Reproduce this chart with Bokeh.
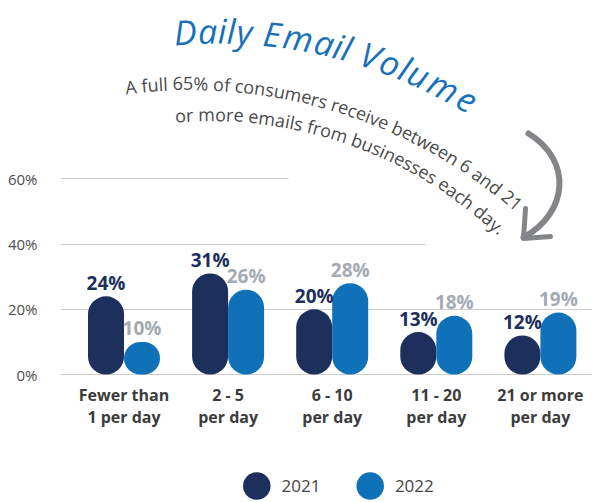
import math
from bokeh.plotting import figure
from bokeh.models import Range1d, FixedTicker, BoxAnnotation, ColumnDataSource
from bokeh.layouts import column
from bokeh.embed import file_html
from bokeh.resources import INLINE
from bokeh.core.properties import value

# ---------------- data ----------------
categories = ["Fewer than\n1 per day", "2 - 5\nper day", "6 - 10\nper day",
              "11 - 20\nper day", "21 or more\nper day"]
series_names = ["2021", "2022"]
values_2021 = [24, 31, 20, 13, 12]
values_2022 = [10, 26, 28, 18, 19]
y_ticks = [0, 20, 40, 60]
y_tick_labels = ["0%", "20%", "40%", "60%"]
title_text = "Daily Email Volume"
subtitle_line1 = "A full 65% of consumers receive between 6 and 21"
subtitle_line2 = "or more emails from businesses each day."

# ---------------- styling / layout ----------------
C2021 = "#1d2f5c"
C2022 = "#0f71b7"
LBL2021 = "#1d2f5c"
LBL2022 = "#a2aab3"
GRID = "#cccccc"
AXIS_TXT = "#4d4d4d"
CAT_TXT = "#3c3c3c"
TITLE_C = "#1870b8"
SUB_C = "#4a4a4a"
ARROW_C = "#838588"
FONT = "Open Sans"
DESC = 0.29   # baseline compensation (em)

W = 592
MAIN_H = 440
LEG_H = 62
FRAME_L, FRAME_B = 60, 380

# mapping helpers: page pixel -> data units
X0_IMG, DX = 123.5, 104.1      # first group centre, group spacing (px)
Y0_IMG, PY = 374.0, 3.26       # 0% line, px per percent


def dx(X):
    return (X - X0_IMG) / DX


def dy(Y):
    return (Y0_IMG - Y) / PY


p = figure(width=W, height=MAIN_H,
           x_range=Range1d(dx(FRAME_L), dx(W)), y_range=Range1d(dy(FRAME_B), dy(0)),
           output_backend="svg", toolbar_location=None,
           min_border_left=FRAME_L, min_border_right=0, min_border_top=0,
           min_border_bottom=MAIN_H - FRAME_B)
p.outline_line_color = None
p.background_fill_color = "white"
p.border_fill_color = "white"

# axes
p.xaxis.ticker = FixedTicker(ticks=list(range(len(categories))))
p.xaxis.major_label_overrides = {i: c for i, c in enumerate(categories)}
p.xaxis.axis_line_color = None
p.xaxis.major_tick_line_color = None
p.xaxis.minor_tick_line_color = None
p.xaxis.major_tick_out = 0
p.xaxis.major_tick_in = 0
p.xaxis.major_label_standoff = 3
p.xaxis.major_label_text_font = FONT
p.xaxis.major_label_text_font_style = "bold"
p.xaxis.major_label_text_font_size = "16px"
p.xaxis.major_label_text_color = CAT_TXT
p.xaxis.major_label_text_line_height = 1.0

p.yaxis.ticker = FixedTicker(ticks=y_ticks)
p.yaxis.major_label_overrides = {t: l for t, l in zip(y_ticks, y_tick_labels)}
p.yaxis.axis_line_color = None
p.yaxis.major_tick_line_color = None
p.yaxis.minor_tick_line_color = None
p.yaxis.major_tick_out = 0
p.yaxis.major_tick_in = 0
p.yaxis.major_label_standoff = 23
p.yaxis.major_label_text_font = FONT
p.yaxis.major_label_text_font_size = "15px"
p.yaxis.major_label_text_color = AXIS_TXT

p.xgrid.grid_line_color = None
p.ygrid.ticker = FixedTicker(ticks=y_ticks)
p.ygrid.grid_line_color = GRID
p.ygrid.grid_line_width = 1

# white panels behind the callout text (they hide the grid there)
p.add_layout(BoxAnnotation(left=dx(288), bottom=dy(205), fill_color="white", fill_alpha=1,
                           line_color=None, level="underlay"))
p.add_layout(BoxAnnotation(left=dx(425), bottom=dy(262), top=dy(205), fill_color="white",
                           fill_alpha=1, line_color=None, level="underlay"))

# bars (capsules)
BAR_PX = 36
bw = BAR_PX / DX
n = len(categories)
xs = [i - bw / 2 for i in range(n)] + [i + bw / 2 for i in range(n)]
tops = values_2021 + values_2022
cols = [C2021] * n + [C2022] * n
src = ColumnDataSource(dict(x=xs, top=tops, color=cols))
p.vbar(x="x", top="top", bottom=0, width=bw, source=src, fill_color="color",
       line_color=None, border_radius=BAR_PX // 2)

# value labels
LAB_SIZE = 19
lab_src = ColumnDataSource(dict(
    x=xs, y=[v + (8 + DESC * LAB_SIZE) / PY for v in tops],
    text=[f"{v}%" for v in tops],
    color=[LBL2021] * n + [LBL2022] * n))
p.text(x="x", y="y", text="text", source=lab_src, text_color="color",
       text_align="center", text_baseline="alphabetic",
       text_font=value(FONT), text_font_style="bold", text_font_size=f"{LAB_SIZE}px")

# ---------------- curved texts ----------------
WID = {' ': .26, 'A': .633, 'D': .70, 'E': .54, 'V': .59, 'a': .556, 'b': .613,
       'c': .476, 'd': .613, 'e': .561, 'f': .339, 'h': .614, 'i': .253, 'l': .253,
       'm': .93, 'n': .614, 'o': .604, 'r': .408, 's': .477, 't': .353, 'u': .614,
       'v': .501, 'w': .778, 'y': .5, '%': .828, '.': .266}


def arc_chars(text, cx, cy, R, phi0_deg, size, track=1.0):
    X, Y, A, T = [], [], [], []
    s = 0.0
    phi0 = math.radians(phi0_deg)
    Rb = R + DESC * size
    for ch in text:
        w = WID.get(ch, .572) * size * track
        if ch != ' ':
            phi = phi0 + (s + w / 2) / R
            X.append(dx(cx + Rb * math.sin(phi)))
            Y.append(dy(cy - Rb * math.cos(phi)))
            A.append(-phi)
            T.append(ch)
        s += w
    return dict(x=X, y=Y, angle=A, text=T)


TITLE_SIZE = 34
t_src = ColumnDataSource(arc_chars(title_text, 216.6, 520.0, 480, -5.2, TITLE_SIZE, 1.03))
p.text(x="x", y="y", text="text", angle="angle", source=t_src, text_color=TITLE_C,
       text_align="center", text_baseline="alphabetic", text_font=value(FONT),
       text_font_style="italic", text_font_size=f"{TITLE_SIZE}px")

s1 = ColumnDataSource(arc_chars(subtitle_line1, 190, 583, 495, -7.5, 18))
s2 = ColumnDataSource(arc_chars(subtitle_line2, 210, 538, 419, -4.8, 18))
for s in (s1, s2):
    p.text(x="x", y="y", text="text", angle="angle", source=s, text_color=SUB_C,
           text_align="center", text_baseline="alphabetic", text_font=value(FONT),
           text_font_size="18px")

# arrow
p.bezier(x0=dx(528), y0=dy(133), x1=dx(523), y1=dy(237), cx0=dx(572), cy0=dy(160),
         cx1=dx(568), cy1=dy(212), line_color=ARROW_C, line_width=6, line_cap="round")
p.multi_line(xs=[[dx(525), dx(523), dx(550)]], ys=[[dy(208), dy(238), dy(236)]],
             line_color=ARROW_C, line_width=5, line_cap="round", line_join="round")

# ---------------- legend (separate strip, frame aligned with main frame) ----------------
leg = figure(width=W, height=LEG_H, x_range=Range1d(FRAME_L, W), y_range=Range1d(LEG_H, 0),
             output_backend="svg", toolbar_location=None, x_axis_type=None, y_axis_type=None,
             min_border_left=FRAME_L, min_border_right=0, min_border_top=0, min_border_bottom=0)
leg.outline_line_color = None
leg.xgrid.visible = False
leg.ygrid.visible = False
LX0, LSTEP, LGAP, LY = 256.3, 113.4, 24.7, 485.5 - MAIN_H
lx = [LX0 + k * LSTEP for k in range(len(series_names))]
leg.scatter(x=lx, y=[LY] * len(lx), size=27.5, marker="circle",
            fill_color=[C2021, C2022], line_color=None)
leg.text(x=[v + LGAP for v in lx], y=[LY] * len(lx), text=series_names,
         text_align="left", text_baseline="middle", text_font=value(FONT),
         text_font_size="17px", text_color="#444444")

layout = column(p, leg, spacing=0)
open("out.html", "w").write(file_html(layout, INLINE))
